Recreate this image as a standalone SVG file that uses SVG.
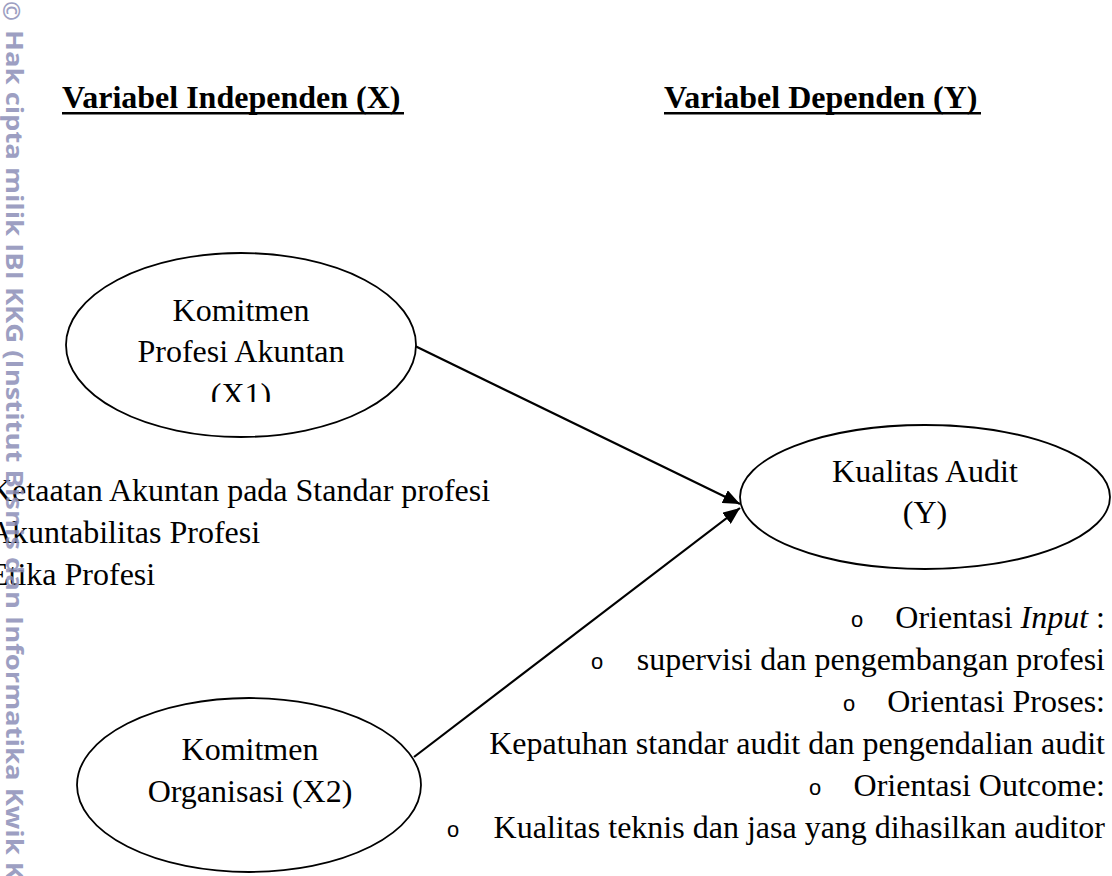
<svg xmlns="http://www.w3.org/2000/svg" width="1112" height="876" viewBox="0 0 1112 876">
  <style>
    .t { font-family: "Liberation Serif", "Times New Roman", serif; font-size: 32px; fill: #000; }
    .r { font-family: "Liberation Serif", "Times New Roman", serif; font-size: 32px; fill: #000; text-anchor: end; }
    .h { font-family: "Liberation Serif", "Times New Roman", serif; font-size: 32px; font-weight: bold; fill: #000; }
    .c { font-family: "Liberation Serif", "Times New Roman", serif; font-size: 32px; fill: #000; text-anchor: middle; }
    .b { font-family: "Liberation Mono", "Courier New", monospace; font-size: 22px; fill: #000; text-anchor: middle; }
    .node { fill: #fff; stroke: #000; stroke-width: 1.8; }
    .edge { fill: none; stroke: #000; stroke-width: 2.2; }
    .wm { font-family: "Open Sans", "DejaVu Sans", sans-serif; font-weight: bold; font-size: 24px; fill: #8c8fb8; opacity: 0.85; }
  </style>
  <defs>
    <marker id="arrow" markerUnits="userSpaceOnUse" markerWidth="18" markerHeight="14" refX="17" refY="7" orient="auto">
      <path d="M0,0 L17,7 L0,14 Z" fill="#000"/>
    </marker>
    <clipPath id="clipX1">
      <rect x="0" y="0" width="1112" height="402"/>
    </clipPath>
  </defs>
  <rect width="1112" height="876" fill="#fff"/>

  <g id="headers">
    <text class="h" x="62" y="108">Variabel Independen (X)</text>
    <rect x="62" y="112" width="342" height="2.5" fill="#000"/>
    <text class="h" x="664" y="108">Variabel Dependen (Y)</text>
    <rect x="664" y="112" width="317" height="2.5" fill="#000"/>
  </g>

  <g id="connectors">
    <line class="edge" x1="415" y1="346" x2="740" y2="504" marker-end="url(#arrow)"/>
    <line class="edge" x1="414" y1="757" x2="740" y2="508" marker-end="url(#arrow)"/>
  </g>

  <g id="node-x1">
    <ellipse class="node" cx="241" cy="345" rx="175" ry="92"/>
    <g clip-path="url(#clipX1)">
      <text class="c" x="241" y="321">Komitmen</text>
      <text class="c" x="241" y="362">Profesi Akuntan</text>
      <text class="c" x="241" y="405">(X1)</text>
    </g>
  </g>

  <g id="node-x2">
    <ellipse class="node" cx="249" cy="785" rx="172" ry="87"/>
    <text class="c" x="250" y="760">Komitmen</text>
    <text class="c" x="250" y="802">Organisasi (X2)</text>
  </g>

  <g id="node-y">
    <ellipse class="node" cx="925" cy="497" rx="185" ry="72"/>
    <text class="c" x="925" y="482">Kualitas Audit</text>
    <text class="c" x="925" y="523">(Y)</text>
  </g>

  <g id="x1-indicators">
    <text class="t" x="-11" y="501">Ketaatan Akuntan pada Standar profesi</text>
    <text class="t" x="-11" y="543">Akuntabilitas Profesi</text>
    <text class="t" x="-11" y="585">Etika Profesi</text>
  </g>

  <g id="y-indicators">
    <text class="b" x="857" y="627">o</text>
    <text class="r" x="1105" y="628">Orientasi <tspan font-style="italic">Input</tspan> :</text>
    <text class="b" x="597" y="669">o</text>
    <text class="r" x="1105" y="670">supervisi dan pengembangan profesi</text>
    <text class="b" x="849" y="711">o</text>
    <text class="r" x="1105" y="712">Orientasi Proses:</text>
    <text class="r" x="1105" y="754">Kepatuhan standar audit dan pengendalian audit</text>
    <text class="b" x="815" y="795">o</text>
    <text class="r" x="1105" y="796">Orientasi Outcome:</text>
    <text class="b" x="453" y="837">o</text>
    <text class="r" x="1105" y="838">Kualitas teknis dan jasa yang dihasilkan auditor</text>
  </g>

  <g id="watermark">
    <text class="wm" font-size="30" font-weight="normal" transform="translate(3,1) rotate(90)">©</text>
    <text class="wm" transform="translate(6,30) rotate(90)" textLength="850" lengthAdjust="spacingAndGlyphs">Hak cipta milik IBI KKG (Institut Bisnis dan Informatika Kwik K</text>
  </g>
</svg>
